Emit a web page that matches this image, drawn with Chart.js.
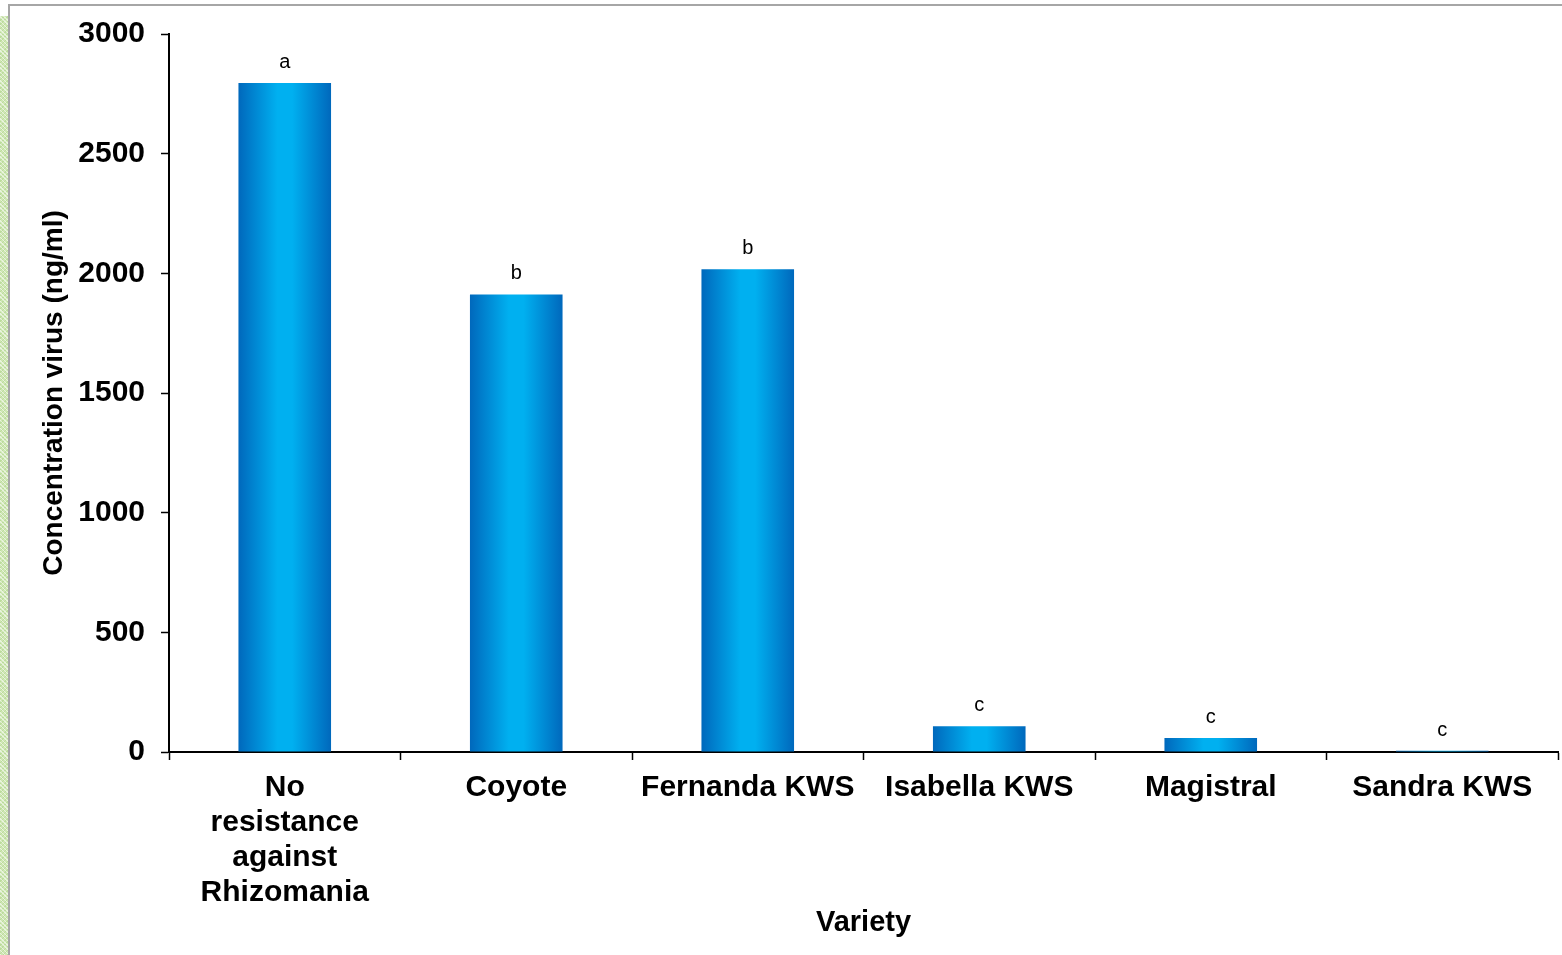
<!DOCTYPE html>
<html>
<head>
<meta charset="utf-8">
<script src="https://cdn.jsdelivr.net/npm/chart.js@4/dist/chart.umd.min.js"></script>
<style>
  html, body { margin: 0; padding: 0; background: #ffffff; }
  #wrap { position: relative; width: 1562px; height: 955px; overflow: hidden; }
  #green { position: absolute; left: 0; top: 16px; width: 8px; height: 939px;
    background-color: #cfe6b4;
    background-image: repeating-linear-gradient(45deg, rgba(255,255,255,0.55) 0 1px, transparent 1px 3px),
                      repeating-linear-gradient(-45deg, rgba(150,200,110,0.35) 0 1px, transparent 1px 3px); }
  #vline { position: absolute; left: 8px; top: 4px; width: 2px; height: 951px; background: #a6a6a6; }
  #hline { position: absolute; left: 8px; top: 4px; width: 1554px; height: 2px; background: #a6a6a6; }
  #cv { position: absolute; left: 0; top: 0; }
</style>
</head>
<body>
<div id="wrap">
  <div id="green"></div>
  <div id="vline"></div>
  <div id="hline"></div>
  <canvas id="cv" width="1562" height="955"></canvas>
</div>
<script>
const categories = [
  ['No', 'resistance', 'against', 'Rhizomania'],
  'Coyote',
  'Fernanda KWS',
  'Isabella KWS',
  'Magistral',
  'Sandra KWS'
];
const concentrations = [2795, 1912, 2017, 108, 58, 5];
const groupLetters = ['a', 'b', 'b', 'c', 'c', 'c'];
const yTicks = [0, 500, 1000, 1500, 2000, 2500, 3000];

const FONT = '"Liberation Sans", Arial, Helvetica, sans-serif';

function barFill(context) {
  const chart = context.chart;
  const xs = chart.scales.x;
  if (!chart.chartArea || !xs) return '#0090D8';
  const center = xs.getPixelForValue(context.dataIndex);
  const half = (xs.width / categories.length) * 0.4 / 2;
  const g = chart.ctx.createLinearGradient(center - half, 0, center + half, 0);
  g.addColorStop(0, '#0068BC');
  g.addColorStop(0.42, '#00B0F0');
  g.addColorStop(0.58, '#00B0F0');
  g.addColorStop(1, '#0068BC');
  return g;
}

const letterPlugin = {
  id: 'letters',
  afterDatasetsDraw(chart) {
    const meta = chart.getDatasetMeta(0);
    const ctx = chart.ctx;
    ctx.save();
    ctx.font = '20px ' + FONT;
    ctx.fillStyle = '#000';
    ctx.textAlign = 'center';
    ctx.textBaseline = 'alphabetic';
    meta.data.forEach((bar, i) => {
      ctx.fillText(groupLetters[i], bar.x, bar.y - 15);
    });
    ctx.restore();
  }
};

new Chart(document.getElementById('cv'), {
  type: 'bar',
  data: {
    labels: categories,
    datasets: [{
      data: concentrations,
      backgroundColor: barFill,
      borderWidth: 0,
      barPercentage: 0.8,
      categoryPercentage: 0.5
    }]
  },
  options: {
    responsive: false,
    animation: false,
    devicePixelRatio: 1,
    layout: { padding: { left: 0, top: 31, right: 4, bottom: 0 } },
    plugins: { legend: { display: false }, tooltip: { enabled: false } },
    scales: {
      x: {
        grid: { display: true, drawOnChartArea: false, drawTicks: true, tickLength: 8, tickColor: '#000', tickWidth: 1.5, offset: true },
        border: { display: true, color: '#000', width: 2 },
        ticks: { color: '#000', font: { family: FONT, size: 30, weight: 'bold', lineHeight: 1.17 }, padding: 10, maxRotation: 0, autoSkip: false },
        title: { display: true, text: 'Variety', color: '#000', font: { family: FONT, size: 29, weight: 'bold' }, padding: { top: 0, bottom: 15 } },
        afterFit(scale) { scale.height = 203; }
      },
      y: {
        min: 0, max: 3000,
        afterBuildTicks(scale) { scale.ticks = yTicks.map(v => ({ value: v })); },
        grid: { display: true, drawOnChartArea: false, drawTicks: true, tickLength: 8, tickColor: '#000', tickWidth: 1.5 },
        border: { display: true, color: '#000', width: 2 },
        ticks: { color: '#000', font: { family: FONT, size: 30, weight: 'bold' }, padding: 16, callback: (v) => String(v) },
        title: { display: true, text: 'Concentration virus (ng/ml)', color: '#000', font: { family: FONT, size: 28, weight: 'bold' }, padding: { top: 37, bottom: 0 } },
        afterFit(scale) { scale.width = 169; }
      }
    }
  },
  plugins: [letterPlugin]
});
</script>
</body>
</html>
